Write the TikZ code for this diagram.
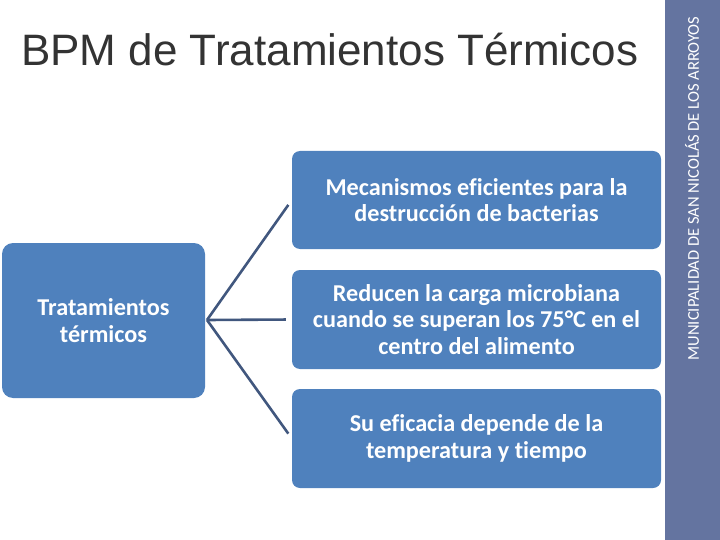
\documentclass[tikz,border=0pt]{standalone}
\usepackage{fontspec}
\setmainfont{Carlito}[Ligatures=NoCommon]
\newfontfamily\titlefont{Liberation Sans}
\definecolor{boxblue}{HTML}{4F81BD}
\definecolor{barblue}{HTML}{6474A0}
\definecolor{linkblue}{HTML}{41577E}
\definecolor{titlegray}{HTML}{333333}
\begin{document}
\begin{tikzpicture}[x=1pt,y=-1pt,
  boxstyle/.style={fill=boxblue,draw=none,rounded corners=8pt,text=white,align=center,font=\bfseries\fontsize{24.2}{26.8}\selectfont},
  linkstyle/.style={draw=linkblue,line width=2.6pt,shorten >=6pt}]
\useasboundingbox (0,0) rectangle (720,540);
\fill[barblue] (665,0) rectangle (720,540);
\node[rotate=90,text=white,font=\fontsize{16.5}{20}\selectfont] (bar) at (692,188.5) {MUNICIPALIDAD DE SAN NICOLÁS DE LOS ARROYOS};
\node[anchor=west,font=\titlefont\fontsize{44}{50}\selectfont,text=titlegray,inner sep=0pt] (title) at (21,50) {BPM de Tratamientos Térmicos};
\node[boxstyle,rounded corners=11pt,minimum width=203pt,minimum height=155pt] (root) at (103.5,320.5) {Tratamientos\\térmicos};
\node[boxstyle,minimum width=369pt,minimum height=98pt] (b1) at (476.5,200) {Mecanismos eficientes para la\\destrucción de bacterias};
\node[boxstyle,minimum width=369pt,minimum height=99pt] (b2) at (476.5,319.5) {Reducen la carga microbiana\\cuando se superan los 75°C en el\\centro del alimento};
\node[boxstyle,minimum width=369pt,minimum height=99pt] (b3) at (476.5,438.5) {Su eficacia depende de la\\temperatura y tiempo};
\coordinate (hub) at (207,320);
\draw[linkstyle] (hub) -- (b1.west);
\draw[linkstyle] (hub) -- (b2.west);
\draw[linkstyle] (hub) -- (b3.west);
\end{tikzpicture}
\end{document}
